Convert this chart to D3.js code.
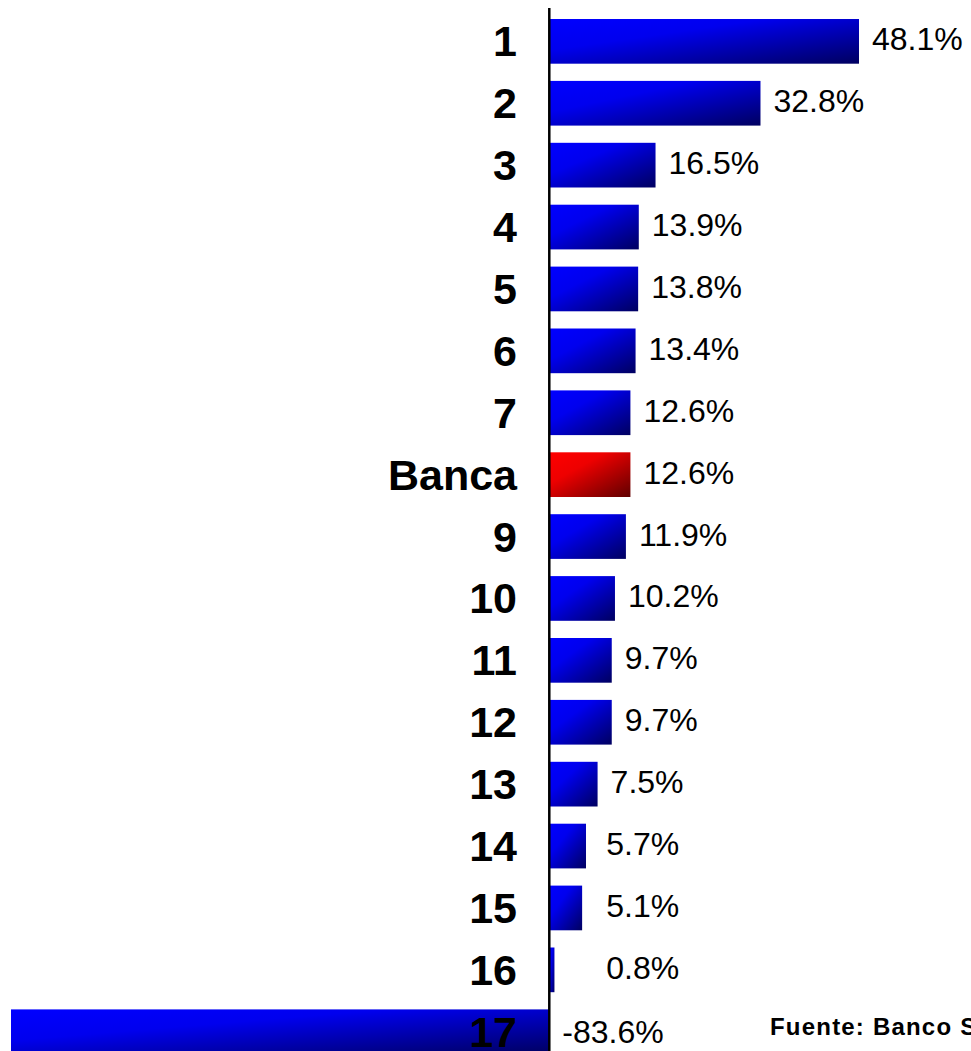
<!DOCTYPE html>
<html>
<head>
<meta charset="utf-8">
<script src="https://cdn.jsdelivr.net/npm/d3@7"></script>
<style>
  html, body { margin: 0; padding: 0; background: #fff; overflow: hidden; }
  svg { display: block; }
</style>
</head>
<body>
<svg id="chart" width="971" height="1051"></svg>
<script>
const categories = ["1","2","3","4","5","6","7","Banca","9","10","11","12","13","14","15","16","17"];
const values = [48.1, 32.8, 16.5, 13.9, 13.8, 13.4, 12.6, 12.6, 11.9, 10.2, 9.7, 9.7, 7.5, 5.7, 5.1, 0.8, -83.6];
const valueLabels = ["48.1%","32.8%","16.5%","13.9%","13.8%","13.4%","12.6%","12.6%","11.9%","10.2%","9.7%","9.7%","7.5%","5.7%","5.1%","0.8%","-83.6%"];
const highlight = ["Banca"];
const sourceText = "Fuente: Banco Santander";

const data = categories.map((c, i) => ({ cat: c, v: values[i], label: valueLabels[i] }));

const svg = d3.select("#chart");
const defs = svg.append("defs");

function grad(id, c0, c1, c2) {
  const g = defs.append("linearGradient").attr("id", id)
    .attr("x1", 0).attr("y1", 0).attr("x2", 1).attr("y2", 1);
  g.append("stop").attr("offset", "0").attr("stop-color", c0);
  g.append("stop").attr("offset", "0.35").attr("stop-color", c1);
  g.append("stop").attr("offset", "1").attr("stop-color", c2);
}
grad("gBlue", "#0000ff", "#0000ee", "#000060");
grad("gRed", "#ff0000", "#ee0000", "#600000");

const x = d3.scaleLinear().domain([d3.min(values), d3.max(values)]).range([11, 859]);
const y = d3.scaleBand().domain(categories).range([10.4, 10.4 + 17 * 61.9])
  .paddingInner(0.278).paddingOuter(0.139);

const x0 = x(0);

// bars
svg.append("g").selectAll("rect").data(data).join("rect")
  .attr("x", d => Math.min(x(d.v), x0))
  .attr("y", d => y(d.cat))
  .attr("width", d => Math.abs(x(d.v) - x0))
  .attr("height", y.bandwidth())
  .attr("fill", d => highlight.includes(d.cat) ? "url(#gRed)" : "url(#gBlue)");

// axis line
svg.append("line")
  .attr("x1", x0).attr("x2", x0)
  .attr("y1", 8).attr("y2", 1051)
  .attr("stroke", "#000").attr("stroke-width", 2.5);

// category labels
svg.append("g").selectAll("text").data(data).join("text")
  .attr("x", 517)
  .attr("y", d => y(d.cat) + y.bandwidth() / 2 + 15)
  .attr("text-anchor", "end")
  .attr("font-family", "Liberation Sans, Arial, sans-serif")
  .attr("font-weight", "bold")
  .attr("font-size", 43)
  .attr("fill", "#000")
  .text(d => d.cat);

// value labels
svg.append("g").selectAll("text").data(data).join("text")
  .attr("x", d => d.v < 0 ? x0 + 13 : Math.max(x(d.v) + 13, x0 + 57))
  .attr("y", d => y(d.cat) + y.bandwidth() / 2 + (d.v < 0 ? 11 : 9))
  .attr("font-family", "Liberation Sans, Arial, sans-serif")
  .attr("font-size", 32)
  .attr("fill", "#000")
  .text(d => d.label);

// source
svg.append("text")
  .attr("x", 770).attr("y", 1035)
  .attr("font-family", "Liberation Sans, Arial, sans-serif")
  .attr("font-weight", "bold")
  .attr("font-size", 24)
  .attr("letter-spacing", 1.2)
  .attr("fill", "#000")
  .text(sourceText);
</script>
</body>
</html>
